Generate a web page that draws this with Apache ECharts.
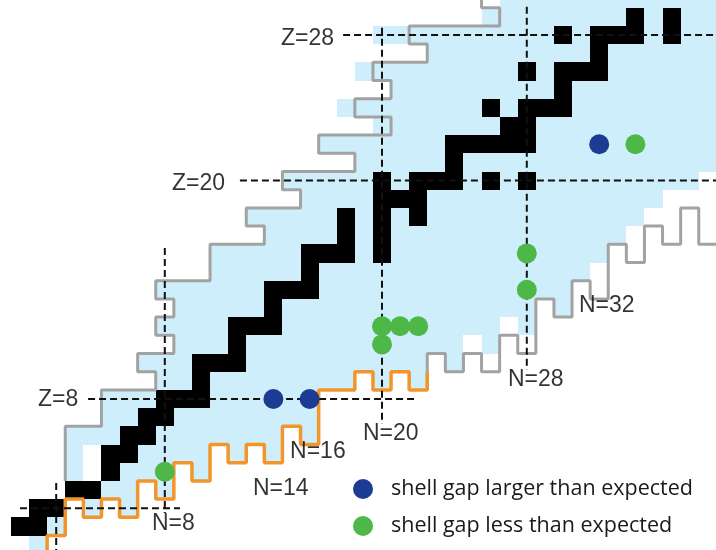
<!DOCTYPE html>
<html><head><meta charset="utf-8">
<script src="https://cdn.jsdelivr.net/npm/echarts@6/dist/echarts.min.js"></script>
<style>html,body{margin:0;padding:0;background:#fff}#c{width:716px;height:550px}</style>
</head><body><div id="c"></div>
<script>
// ---- data: stable nuclides [N, Z] (black squares)
const stable = [[0,1],[1,1],[1,2],[2,2],[3,3],[4,3],[5,4],[5,5],[6,5],[6,6],[7,6],[7,7],[8,7],[8,8],[9,8],[10,8],
[10,9],[10,10],[11,10],[12,10],[12,11],[12,12],[13,12],[14,12],[14,13],[14,14],[15,14],[16,14],[16,15],
[16,16],[17,16],[18,16],[20,16],[18,17],[20,17],[18,18],[20,18],[22,18],[20,19],[21,19],[22,19],
[20,20],[22,20],[23,20],[24,20],[26,20],[28,20],[24,21],[24,22],[25,22],[26,22],[27,22],[28,22],
[27,23],[28,23],[26,24],[28,24],[29,24],[30,24],[30,25],[28,26],[30,26],[31,26],[32,26],[32,27],
[30,28],[32,28],[33,28],[34,28],[36,28],[34,29],[36,29]];

// known nuclides (light blue): [Z, N from, N to]
const known = [[0,1,1],[1,0,2],[2,1,2],[2,4,4],[2,6,6],[3,3,6],[3,8,8],[4,3,3],[4,5,8],[4,10,10],
[5,3,3],[5,5,10],[5,12,12],[5,14,14],[6,3,14],[6,16,16],[7,5,16],[8,5,16],[9,8,18],[9,20,20],[9,22,22],
[10,7,22],[10,24,24],[11,9,24],[11,26,26],[12,8,26],[12,28,28],[13,9,28],[13,30,30],[14,8,30],[15,11,31],[16,11,32],
[17,14,33],[18,13,34],[19,16,35],[20,15,37],[21,19,38],[22,17,38],[23,20,38],[24,18,38],[25,21,38],
[26,19,38],[27,23,38],[28,20,38],[29,26,38],[30,27,38]];

// proton-side boundary (grey), neutron drip line (orange), neutron-side boundary (grey): [N, Z] cell edges
const greyLeft = [[25.5,30.5],[25.5,29.5],[26.5,29.5],[26.5,28.5],[21.5,28.5],[21.5,27.5],[22.5,27.5],[22.5,26.5],
[19.5,26.5],[19.5,25.5],[20.5,25.5],[20.5,24.5],[18.5,24.5],[18.5,23.5],[20.5,23.5],[20.5,22.5],[16.5,22.5],
[16.5,21.5],[18.5,21.5],[18.5,20.5],[14.5,20.5],[14.5,19.5],[15.5,19.5],[15.5,18.5],[12.5,18.5],[12.5,17.5],
[13.5,17.5],[13.5,16.5],[10.5,16.5],[10.5,14.5],[7.5,14.5],[7.5,13.5],[8.5,13.5],[8.5,12.5],[7.5,12.5],
[7.5,11.5],[8.5,11.5],[8.5,10.5],[6.5,10.5],[6.5,9.5],[7.5,9.5],[7.5,8.5],[4.5,8.5],[4.5,6.5],[2.5,6.5],[2.5,3.5]];
const orangeLine = [[1.5,-1],[1.5,0.5],[2.5,0.5],[2.5,2.5],[3.5,2.5],[3.5,1.5],[4.5,1.5],[4.5,2.5],[5.5,2.5],[5.5,1.5],
[6.5,1.5],[6.5,3.5],[7.5,3.5],[7.5,2.5],[8.5,2.5],[8.5,4.5],[9.5,4.5],[9.5,3.5],[10.5,3.5],[10.5,5.5],[11.5,5.5],
[11.5,4.5],[12.5,4.5],[12.5,5.5],[13.5,5.5],[13.5,4.5],[14.5,4.5],[14.5,6.5],[15.5,6.5],[15.5,5.5],[16.5,5.5],
[16.5,8.5],[18.5,8.5],[18.5,9.5],[19.5,9.5],[19.5,8.5],[20.5,8.5],[20.5,9.5],[21.5,9.5],[21.5,8.5],[22.5,8.5],[22.5,9.5]];
const greyRight = [[22.5,8.5],[22.5,10.5],[23.5,10.5],[23.5,9.5],[24.5,9.5],[24.5,10.5],[25.5,10.5],[25.5,9.5],
[26.5,9.5],[26.5,11.5],[27.5,11.5],[27.5,10.5],[28.5,10.5],[28.5,13.5],[29.5,13.5],[29.5,12.5],[30.5,12.5],
[30.5,14.5],[31.5,14.5],[31.5,13.5],[32.5,13.5],[32.5,16.5],[33.5,16.5],[33.5,15.5],[34.5,15.5],[34.5,17.5],
[35.5,17.5],[35.5,16.5],[36.5,16.5],[36.5,18.5],[37.5,18.5],[37.5,16.5],[39,16.5]];

// magic-number guide lines: [magic value, from, to]
const magicZ = [[28,17.85,39],[20,12.15,39],[8,3.76,21.8],[2,0,8.84]];
const magicN = [[2,3.38,-1],[8,16.3,1.74],[20,28.4,6.63],[28,29.55,9.6]];

// shell-gap points [N, Z]
const largerGap = [[14,8],[16,8],[32,22]];
const smallerGap = [[8,4],[20,11],[20,12],[21,12],[22,12],[28,14],[28,16],[34,22]];

// text labels
const labelText = ['Z=28','Z=20','Z=8','N=8','N=20','N=28','N=32','N=16','N=14'];
const labelPos = [[14.42,27.78],[8.40,19.84],[0.99,7.97],[7.29,1.13],[18.95,6.10],[26.96,9.04],[30.88,13.11],[14.92,5.09],[12.87,3.08]];

// ---- build
const knownCells = [];
known.forEach(([z,a,b]) => { for (let n=a;n<=b;n++) knownCells.push([n,z]); });

function cellRender(color){
  return function(params, api){
    const n = api.value(0), z = api.value(1);
    const p1 = api.coord([n-0.5, z+0.5]);
    const p2 = api.coord([n+0.5, z-0.5]);
    const x = Math.round(p1[0]), y = Math.round(p1[1]);
    return {type:'rect', shape:{x:x, y:y, width:Math.round(p2[0])-x, height:Math.round(p2[1])-y}, style:{fill:color}};
  };
}

const series = [];
series.push({type:'custom', renderItem:cellRender('#cdeefa'), data:knownCells, clip:true, z:1, silent:true});
series.push({type:'custom', renderItem:cellRender('#000000'), data:stable, clip:true, z:2, silent:true});
series.push({type:'line', data:greyLeft, showSymbol:false, symbol:'none', lineStyle:{color:'#a2a2a2', width:3}, z:3, silent:true});
series.push({type:'line', data:greyRight, showSymbol:false, symbol:'none', lineStyle:{color:'#a2a2a2', width:3}, z:3, silent:true});
series.push({type:'line', data:orangeLine, showSymbol:false, symbol:'none', lineStyle:{color:'#f2962b', width:3.5}, z:4, silent:true});
magicZ.forEach(([v,a,b]) => series.push({type:'line', data:[[a,v],[b,v]], showSymbol:false, symbol:'none',
  lineStyle:{color:'#111', width:2, type:[7,4]}, z:5, silent:true}));
magicN.forEach(([v,a,b]) => series.push({type:'line', data:[[v,a],[v,b]], showSymbol:false, symbol:'none',
  lineStyle:{color:'#111', width:2, type:[7,4]}, z:5, silent:true}));
series.push({type:'scatter', name:'shell gap larger than expected', data:largerGap, symbol:'circle', symbolSize:20,
  itemStyle:{color:'#1c3c94', opacity:1}, z:6, silent:true});
series.push({type:'scatter', name:'shell gap less than expected', data:smallerGap, symbol:'circle', symbolSize:20,
  itemStyle:{color:'#4db848', opacity:1}, z:6, silent:true});
series.push({type:'scatter', data:labelPos.map((p,i)=>({value:p, name:labelText[i]})), symbolSize:1,
  itemStyle:{color:'rgba(0,0,0,0)'}, z:7, silent:true,
  label:{show:true, position:'inside', align:'left', verticalAlign:'middle', formatter:'{b}',
    fontFamily:'Liberation Sans', fontSize:23, color:'#000'}});

const chart = echarts.init(document.getElementById('c'), null, {renderer:'canvas'});
chart.setOption({
  animation:false,
  backgroundColor:'#ffffff',
  grid:{left:0, top:0, right:0, bottom:0, containLabel:false},
  xAxis:{type:'value', min:-20/18.1, max:(716-20)/18.1, show:false},
  yAxis:{type:'value', min:(544.6-550)/18.2, max:544.6/18.2, show:false},
  legend:{data:['shell gap larger than expected','shell gap less than expected'], orient:'vertical',
    left:353, top:478, itemWidth:20, itemHeight:20, itemGap:15, icon:'circle', padding:0,
    textStyle:{fontFamily:'Open Sans', fontSize:21.5, color:'#1a1a1a', padding:[0,0,0,13]}},
  series:series
});
</script></body></html>
